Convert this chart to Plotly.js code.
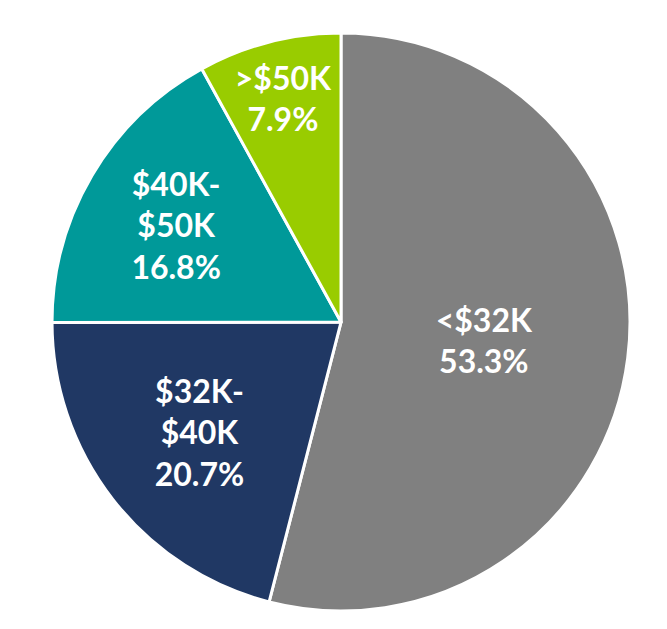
<!DOCTYPE html>
<html><head><meta charset="utf-8">
<script src="https://cdn.plot.ly/plotly-3.0.1.min.js"></script>
<style>html,body{margin:0;padding:0;background:#fff}</style>
</head><body>
<div id="chart" style="width:667px;height:629px"></div>
<script>
const categories = ["<$32K", "$32K-<br>$40K", "$40K-<br>$50K", ">$50K"];
const shares = [53.3, 20.7, 16.8, 7.9];
const colors = ["#808080", "#203864", "#009999", "#99CC00"];

Plotly.newPlot("chart", [{
  type: "pie",
  labels: categories,
  values: shares,
  sort: false,
  direction: "clockwise",
  rotation: 0,
  marker: {colors: colors, line: {color: "#ffffff", width: 3}},
  texttemplate: "<b>%{label}<br>%{value:.1f}%</b>",
  textposition: "inside",
  insidetextorientation: "horizontal",
  textfont: {family: "Lato, 'Open Sans', sans-serif", size: 32, color: "#ffffff"},
  hoverinfo: "none",
  domain: {x: [0.078, 0.9445], y: [0.0286, 0.9475]}
}], {
  width: 667, height: 629,
  margin: {l: 0, r: 0, t: 0, b: 0},
  showlegend: false,
  uniformtext: {mode: "show", minsize: 32},
  paper_bgcolor: "#ffffff"
}, {staticPlot: true});
</script>
</body></html>
